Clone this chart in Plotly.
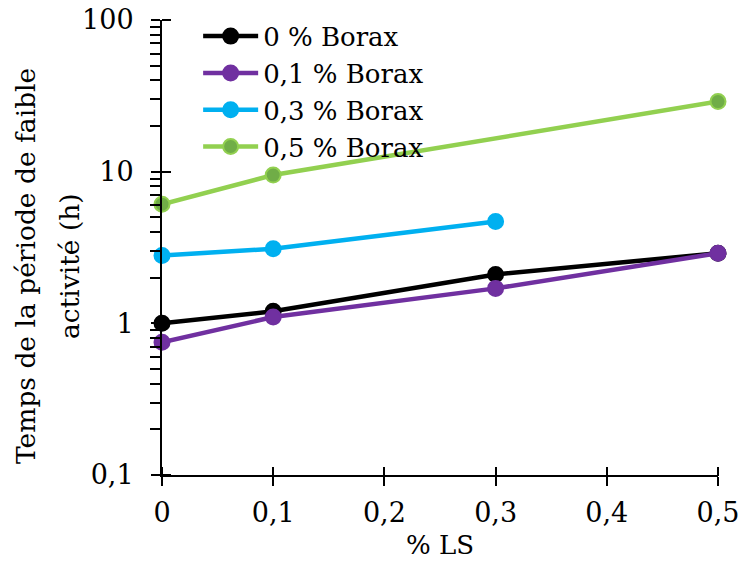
import plotly.graph_objects as go

# ---- data ----
ls_pct = [0, 0.1, 0.3, 0.5]
borax_0 = [1.0, 1.2, 2.1, 2.9]
borax_01 = [0.75, 1.1, 1.7, 2.9]
ls_pct_03 = [0, 0.1, 0.3]
borax_03 = [2.8, 3.1, 4.7]
ls_pct_05 = [0, 0.1, 0.5]
borax_05 = [6.1, 9.5, 29.0]

series_names = ["0 % Borax", "0,1 % Borax", "0,3 % Borax", "0,5 % Borax"]
x_tickvals = [0, 0.1, 0.2, 0.3, 0.4, 0.5]
x_ticktext = ["0", "0,1", "0,2", "0,3", "0,4", "0,5"]
y_tickvals = [0.1, 1, 10, 100]
y_ticktext = ["0,1", "1", "10", "100"]
y_minor_vals = [m * d for d in (0.1, 1, 10) for m in range(2, 10)]
y_title_lines = ["Temps de la période de faible", "activité (h)"]
x_title = "% LS"

FONT = "DejaVu Serif"
TICK_LEN = 9

fig = go.Figure()

def add(x, y, name, line_color, fill, edge):
    fig.add_trace(go.Scatter(
        x=x, y=y, name=name, mode="lines+markers",
        line=dict(color=line_color, width=4.5),
        marker=dict(size=15, color=fill, line=dict(color=edge, width=2)),
        cliponaxis=False,
    ))

add(ls_pct, borax_0, series_names[0], "#000000", "#000000", "#000000")
add(ls_pct, borax_01, series_names[1], "#7030A0", "#7030A0", "#7030A0")
add(ls_pct_03, borax_03, series_names[2], "#00B0F0", "#00B0F0", "#00B0F0")
add(ls_pct_05, borax_05, series_names[3], "#92D050", "#70AD47", "#92D050")

# invisible trace carrying the helper axes (inner half of the crossing ticks)
fig.add_trace(go.Scatter(x=[ls_pct[0]], y=[borax_0[0]], xaxis="x2", yaxis="y2",
                         mode="markers", marker=dict(opacity=0),
                         showlegend=False, hoverinfo="skip"))

# y-axis title as two rotated lines (Excel-like spacing)
for txt, xpos in zip(y_title_lines, [-0.2464, -0.1673]):
    fig.add_annotation(text=txt, textangle=-90, xref="paper", yref="paper",
                       x=xpos, y=0.4593, xanchor="center", yanchor="middle",
                       showarrow=False, font=dict(family=FONT, size=26.5, color="black"))

PLOT_W = 741 - 162 - 23
PLOT_H = 561 - 20 - 86

fig.update_layout(
    width=741, height=561,
    margin=dict(l=162, r=23, t=20, b=86, autoexpand=False),
    paper_bgcolor="white", plot_bgcolor="white",
    font=dict(family=FONT, size=27, color="black"),
    showlegend=True,
    legend=dict(x=0.065, y=1.016, xanchor="left", yanchor="top",
                bgcolor="rgba(0,0,0,0)", font=dict(family=FONT, size=26),
                tracegroupgap=0, itemwidth=55),
    xaxis=dict(range=[0, 0.5], tickvals=x_tickvals, ticktext=x_ticktext,
               showgrid=False, zeroline=False, showline=True, linecolor="black",
               linewidth=2, ticks="outside", ticklen=TICK_LEN, tickwidth=2, tickcolor="black",
               automargin=False, ticklabelstandoff=4,
               title=dict(text=x_title, standoff=8, font=dict(size=26)),
               tickfont=dict(size=27)),
    yaxis=dict(type="log", range=[-1, 2], tickvals=y_tickvals, ticktext=y_ticktext,
               showgrid=False, zeroline=False, showline=True, linecolor="black",
               linewidth=2, ticks="outside", ticklen=TICK_LEN, tickwidth=2, tickcolor="black",
               automargin=False, ticklabelstandoff=12,
               minor=dict(ticks="outside", ticklen=10, tickwidth=2, tickcolor="black",
                          tickvals=y_minor_vals, showgrid=False),
               tickfont=dict(size=27)),
    # helper axes placed one tick-length inside the plot, ticks pointing back to the axis line
    xaxis2=dict(overlaying="x", anchor="free", position=TICK_LEN / PLOT_H, side="bottom",
                range=[0, 0.5], tickvals=x_tickvals, showticklabels=False,
                showgrid=False, zeroline=False, showline=False, automargin=False,
                ticks="outside", ticklen=TICK_LEN, tickwidth=2, tickcolor="black"),
    yaxis2=dict(overlaying="y", anchor="free", position=TICK_LEN / PLOT_W, side="left",
                type="log", range=[-1, 2], tickvals=y_tickvals, showticklabels=False,
                showgrid=False, zeroline=False, showline=False, automargin=False,
                ticks="outside", ticklen=TICK_LEN, tickwidth=2, tickcolor="black"),
)

fig.write_html("out.html", config={"displayModeBar": False},
               post_script="document.body.style.margin='0';document.body.style.overflow='hidden';")
